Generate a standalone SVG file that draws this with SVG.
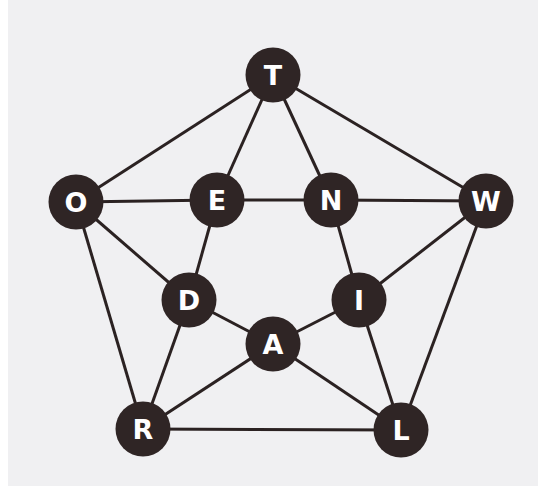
<svg xmlns="http://www.w3.org/2000/svg" width="538" height="486" viewBox="0 0 538 486">
<style>
.e{stroke:#2b2222;stroke-width:3;fill:none}
.n circle{fill:#2f2525}
.n text{fill:#ffffff;font-family:"DejaVu Sans","Liberation Sans",sans-serif;font-weight:bold;font-size:27px;text-anchor:middle}
</style>
<rect width="538" height="486" fill="#f0f0f2"/>
<rect width="8" height="486" fill="#ffffff"/>
<g id="edges">
<line class="e" x1="273" y1="75" x2="76" y2="202"/>
<line class="e" x1="273" y1="75" x2="486" y2="201"/>
<line class="e" x1="273" y1="75" x2="217" y2="200"/>
<line class="e" x1="273" y1="75" x2="331" y2="200"/>
<line class="e" x1="76" y1="202" x2="217" y2="200"/>
<line class="e" x1="217" y1="200" x2="331" y2="200"/>
<line class="e" x1="331" y1="200" x2="486" y2="201"/>
<line class="e" x1="76" y1="202" x2="189" y2="300"/>
<line class="e" x1="76" y1="202" x2="143" y2="429"/>
<line class="e" x1="217" y1="200" x2="189" y2="300"/>
<line class="e" x1="331" y1="200" x2="359" y2="300"/>
<line class="e" x1="486" y1="201" x2="359" y2="300"/>
<line class="e" x1="486" y1="201" x2="401" y2="430"/>
<line class="e" x1="189" y1="300" x2="273" y2="344"/>
<line class="e" x1="359" y1="300" x2="273" y2="344"/>
<line class="e" x1="189" y1="300" x2="143" y2="429"/>
<line class="e" x1="359" y1="300" x2="401" y2="430"/>
<line class="e" x1="273" y1="344" x2="143" y2="429"/>
<line class="e" x1="273" y1="344" x2="401" y2="430"/>
<line class="e" x1="143" y1="429" x2="401" y2="430"/>
</g>
<g id="T" class="n"><circle cx="273" cy="75" r="27.5"/><text x="273" y="85">T</text></g>
<g id="O" class="n"><circle cx="76" cy="202" r="27.5"/><text x="76" y="212">O</text></g>
<g id="E" class="n"><circle cx="217" cy="200" r="27.5"/><text x="217" y="210">E</text></g>
<g id="N" class="n"><circle cx="331" cy="200" r="27.5"/><text x="331" y="210">N</text></g>
<g id="W" class="n"><circle cx="486" cy="201" r="27.5"/><text x="486" y="211">W</text></g>
<g id="D" class="n"><circle cx="189" cy="300" r="27.5"/><text x="189" y="310">D</text></g>
<g id="I" class="n"><circle cx="359" cy="300" r="27.5"/><text x="359" y="310">I</text></g>
<g id="A" class="n"><circle cx="273" cy="344" r="27.5"/><text x="273" y="354">A</text></g>
<g id="R" class="n"><circle cx="143" cy="429" r="27.5"/><text x="143" y="439">R</text></g>
<g id="L" class="n"><circle cx="401" cy="430" r="27.5"/><text x="401" y="440">L</text></g>
</svg>
